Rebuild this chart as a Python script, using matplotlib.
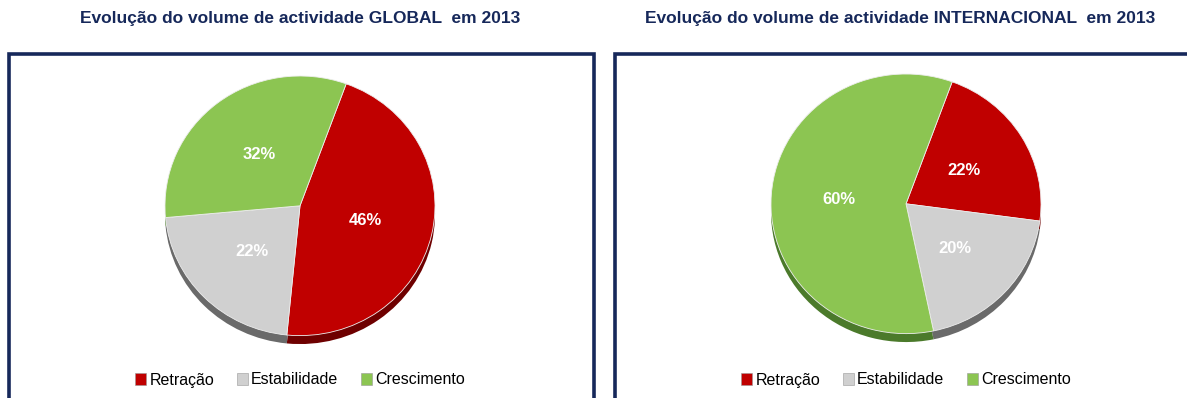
import matplotlib.pyplot as plt
from matplotlib.patches import Rectangle

categories = ["Retração", "Estabilidade", "Crescimento"]
global_values = [46, 22, 32]
intl_values = [22, 20, 60]
titles = ["Evolução do volume de actividade GLOBAL  em 2013",
          "Evolução do volume de actividade INTERNACIONAL  em 2013"]

colors = ["#c00000", "#d0d0d0", "#8cc552"]
shadow_colors = ["#6e0000", "#6a6a6a", "#4b7a2b"]
navy = "#16285a"

plt.rcParams['font.family'] = ['Liberation Sans', 'DejaVu Sans']

W, H = 1187, 398
fig = plt.figure(figsize=(W / 100, H / 100), dpi=100)


def fx(px):
    return px / W


def fy(py):
    return 1 - py / H


# boxes (cut off at the bottom, like the reference)
for x0, x1 in [(9, 594), (615, 1200)]:
    fig.patches.append(Rectangle((fx(x0), fy(420)), fx(x1 - x0), (420 - 54) / H,
                                 transform=fig.transFigure, fill=False,
                                 edgecolor=navy, linewidth=2.6, zorder=1))

panels = [(300, 206, global_values, titles[0], 300),
          (906, 204, intl_values, titles[1], 900)]

for cx, cy, vals, title, tx in panels:
    rx, ry = 135, 130
    ax = fig.add_axes([fx(cx - rx), fy(cy + ry + 10), fx(2 * rx), (2 * ry + 10) / H])
    # depth shadow
    ax.pie(vals, colors=shadow_colors, startangle=70, counterclock=False,
           center=(0, -0.065), radius=1.0)
    total = sum(vals)
    wedges, texts, autotexts = ax.pie(
        vals, colors=colors, startangle=70, counterclock=False,
        autopct=lambda p, t=total: f"{round(p * t / 100)}%", pctdistance=0.5, radius=1.0,
        textprops=dict(color='white', fontsize=12, fontweight='bold'),
        wedgeprops=dict(linewidth=0.6, edgecolor='#eeeeee'))
    ax.set_aspect('auto')
    ax.set_xlim(-1.0, 1.0)
    ax.set_ylim(-1.08, 1.0)
    ax.axis('off')

    fig.text(fx(tx), fy(18), title, ha='center', va='center',
             fontsize=12.5, fontweight='bold', color=navy)

    leg_ax = fig.add_axes([fx(cx - 200), fy(395), fx(400), 30 / H])
    leg_ax.axis('off')
    handles = [Rectangle((0, 0), 1, 1, facecolor=c, edgecolor='#999999', linewidth=0.4)
               for c in colors]
    leg_ax.legend(handles, categories, loc='center', ncol=3, frameon=False,
                  fontsize=11.5, handlelength=0.7, handleheight=0.7,
                  handletextpad=0.2, columnspacing=1.4)

fig.savefig("out.png", dpi=100)
